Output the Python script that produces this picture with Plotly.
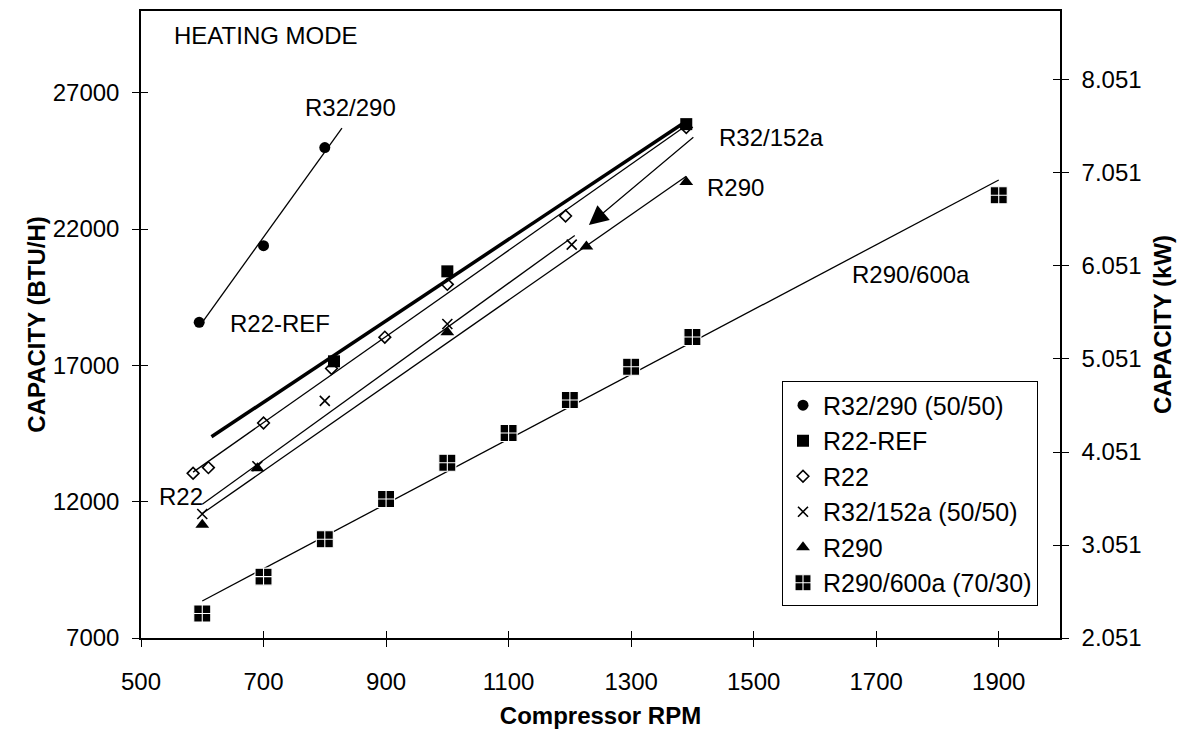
import numpy as np
import plotly.graph_objects as go

# ---------------- data ----------------
rpm_r32_290 = [595, 700, 800]
cap_r32_290 = [18580, 21390, 24990]

rpm_r22_ref = [815, 1000, 1390]
cap_r22_ref = [17150, 20450, 25850]

rpm_r22 = [585, 610, 700, 811, 898, 1000, 1193, 1390]
cap_r22 = [13040, 13250, 14885, 16884, 18036, 19972, 22480, 25725]

rpm_r32_152a = [600, 690, 800, 1000, 1203]
cap_r32_152a = [11550, 13300, 15700, 18520, 21430]

rpm_r290 = [600, 690, 1000, 1227, 1390]
cap_r290 = [11150, 13230, 18220, 21360, 23730]

rpm_r290_600a = [600, 700, 800, 900, 1000, 1100, 1200, 1300, 1400, 1900]
cap_r290_600a = [7900, 9250, 10620, 12100, 13430, 14520, 15730, 16950, 18040, 23240]

# trend-line extents (rpm) for each series
trend_r32_290 = [595, 828]
trend_r22_ref = [615, 1390]
trend_r22 = [585, 1390]
trend_r32_152a = [600, 1208]
trend_r290 = [600, 1390]
trend_r290_600a = [600, 1900]

series_names = ["R32/290 (50/50)", "R22-REF", "R22", "R32/152a (50/50)", "R290", "R290/600a (70/30)"]

x_ticks = [500, 700, 900, 1100, 1300, 1500, 1700, 1900]
y_ticks = [7000, 12000, 17000, 22000, 27000]
kw_ticks = [2.051, 3.051, 4.051, 5.051, 6.051, 7.051, 8.051]
X_RANGE = [500, 2000]
Y_RANGE = [7000, 30000]
BTU_PER_KW = 3412.14

# ---------------- figure ----------------
W, H = 1190, 734
ML, MR, MT, MB = 141, 130, 9, 92
PW, PH = W - ML - MR, H - MT - MB
FONT = "Liberation Sans, Arial, Helvetica, sans-serif"


def px2paper(px, py):
    return (px - ML) / PW, (H - MB - py) / PH


fig = go.Figure()


def trend(rpm, cap, ext, width):
    slope, icpt = np.polyfit(rpm, cap, 1)
    xs = np.array(ext, dtype=float)
    fig.add_trace(go.Scatter(x=xs, y=slope * xs + icpt, mode="lines",
                             line=dict(color="black", width=width),
                             showlegend=False, hoverinfo="skip"))


trend(rpm_r32_290, cap_r32_290, trend_r32_290, 1.3)
trend(rpm_r22_ref, cap_r22_ref, trend_r22_ref, 3.5)
trend(rpm_r22, cap_r22, trend_r22, 1.3)
trend(rpm_r32_152a, cap_r32_152a, trend_r32_152a, 1.3)
trend(rpm_r290, cap_r290, trend_r290, 1.3)
trend(rpm_r290_600a, cap_r290_600a, trend_r290_600a, 1.3)

marker_styles = [
    dict(symbol="circle", size=11, color="black"),
    dict(symbol="square", size=12, color="black"),
    dict(symbol="diamond-open", size=9, color="black", line=dict(width=1.6, color="black")),
    dict(symbol="x-thin-open", size=10, color="black", line=dict(width=1.6, color="black")),
    dict(symbol="triangle-up", size=12, color="black"),
    dict(symbol="square-cross", size=17, color="black", line=dict(width=1.1, color="white")),
]
data_sets = [
    (rpm_r32_290, cap_r32_290),
    (rpm_r22_ref, cap_r22_ref),
    (rpm_r22, cap_r22),
    (rpm_r32_152a, cap_r32_152a),
    (rpm_r290, cap_r290),
    (rpm_r290_600a, cap_r290_600a),
]
for name, (xs, ys), mk in zip(series_names, data_sets, marker_styles):
    fig.add_trace(go.Scatter(x=xs, y=ys, mode="markers", name=name, marker=mk))

# dummy traces so the overlay axes (inner half of crossing ticks) are drawn
for xa, ya in [("x3", "y"), ("x", "y3"), ("x", "y2"), ("x", "y4")]:
    fig.add_trace(go.Scatter(x=[None], y=[None], xaxis=xa, yaxis=ya,
                             showlegend=False, hoverinfo="skip"))

tickfont = dict(family=FONT, size=24, color="black")
titlefont = dict(family=FONT, size=24, color="black", weight="bold")
kw_range = [Y_RANGE[0] / BTU_PER_KW, Y_RANGE[1] / BTU_PER_KW]

fig.update_layout(
    width=W, height=H,
    margin=dict(l=ML, r=MR, t=MT, b=MB, pad=0),
    paper_bgcolor="white", plot_bgcolor="white",
    font=dict(family=FONT, size=24, color="black"),
    xaxis=dict(range=X_RANGE, tickvals=x_ticks, ticks="outside", ticklen=7,
               tickcolor="black", tickwidth=1.2, showline=True, linecolor="black",
               linewidth=1.5, mirror=True, showgrid=False, zeroline=False,
               tickfont=tickfont, ticklabelstandoff=14, tickformat="d",
               title=dict(text="Compressor RPM", font=titlefont, standoff=14)),
    xaxis3=dict(range=X_RANGE, overlaying="x", anchor="y", tickvals=x_ticks,
                ticks="inside", ticklen=7, tickcolor="black", tickwidth=1.2,
                showticklabels=False, showline=False, showgrid=False, zeroline=False),
    yaxis=dict(range=Y_RANGE, tickvals=y_ticks, ticks="outside", ticklen=7,
               tickcolor="black", tickwidth=1.2, showline=True, linecolor="black",
               linewidth=1.5, showgrid=False, zeroline=False, tickfont=tickfont,
               ticklabelstandoff=8, tickformat="d",
               title=dict(text="CAPACITY (BTU/H)", font=titlefont, standoff=0)),
    yaxis3=dict(range=Y_RANGE, overlaying="y", side="left", anchor="x", tickvals=y_ticks,
                ticks="inside", ticklen=7, tickcolor="black", tickwidth=1.2,
                showticklabels=False, showline=False, showgrid=False, zeroline=False),
    yaxis2=dict(range=kw_range, overlaying="y", side="right", anchor="x",
                tickvals=kw_ticks, ticktext=[f"{v:.3f}" for v in kw_ticks],
                ticks="outside", ticklen=7, tickcolor="black", tickwidth=1.2,
                showline=True, linecolor="black", linewidth=1.5, showgrid=False,
                zeroline=False, tickfont=tickfont, ticklabelstandoff=8,
                title=dict(text="CAPACITY (kW)", font=titlefont, standoff=14)),
    yaxis4=dict(range=kw_range, overlaying="y", side="right", anchor="x",
                tickvals=kw_ticks, ticks="inside", ticklen=7, tickcolor="black",
                tickwidth=1.2, showticklabels=False, showline=False, showgrid=False,
                zeroline=False),
    legend=dict(x=px2paper(1038, 383)[0], y=px2paper(1038, 383)[1],
                xanchor="right", yanchor="top", bgcolor="white",
                bordercolor="black", borderwidth=1,
                font=dict(family=FONT, size=25, color="black"),
                tracegroupgap=0, itemwidth=30),
    showlegend=True,
)

labels = [
    ("HEATING MODE", 172, 34),
    ("R32/290", 303, 106),
    ("R22-REF", 228, 324),
    ("R22", 157, 499),
    ("R32/152a", 717, 137),
    ("R290", 705, 187),
    ("R290/600a", 850, 275),
]
for text, px, py in labels:
    ax_, ay_ = px2paper(px, py)
    fig.add_annotation(text=text, x=ax_, y=ay_, xref="paper", yref="paper",
                       xanchor="left", yanchor="middle", showarrow=False,
                       font=dict(family=FONT, size=24, color="black"))

# arrow pointing from the R32/152a label to its line
fig.add_annotation(x=1231, y=22150, xref="x", yref="y", text="", showarrow=True,
                   ax=106, ay=-89, arrowhead=2, arrowsize=3.2, arrowwidth=1.2,
                   arrowcolor="black")

fig.write_html("out.html")
